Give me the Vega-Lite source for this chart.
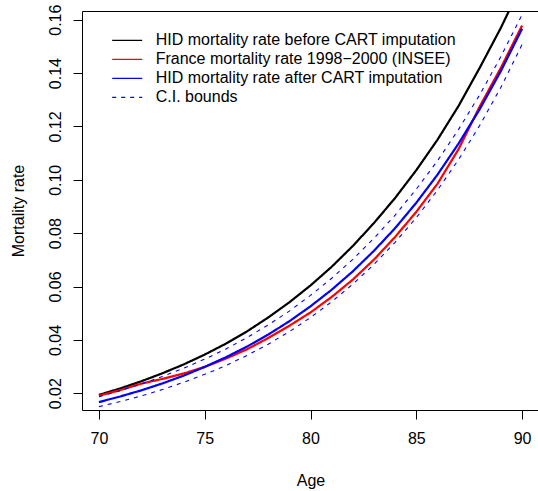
{
  "$schema": "https://vega.github.io/schema/vega-lite/v6.json",
  "width": 457,
  "height": 399,
  "autosize": {"type": "none"},
  "padding": {"left": 82, "top": 11, "right": 0, "bottom": 81},
  "background": "white",
  "config": {
    "font": "Liberation Sans",
    "view": {"stroke": "#000000", "strokeWidth": 1},
    "axis": {
      "grid": false, "domain": false, "tickColor": "#000000", "tickWidth": 1, "tickSize": 9,
      "labelFont": "Liberation Sans", "labelFontSize": 16, "labelColor": "#000000",
      "titleFont": "Liberation Sans", "titleFontSize": 16, "titleFontWeight": "normal", "titleColor": "#000000",
      "labelOverlap": false, "labelBound": false, "labelFlush": false
    },
    "legend": {
      "orient": "none", "legendX": 37.2, "legendY": 21.3,
      "symbolType": "M-3,0H3", "symbolSize": 100, "symbolStrokeWidth": 1.2,
      "labelFont": "Liberation Sans", "labelFontSize": 16, "labelColor": "#000000",
      "labelOffset": 20.5, "rowPadding": 3, "padding": 0, "labelLimit": 500
    }
  },
  "datasets": {
    "before": [
      {"age": 70, "rate": 0.0194}, {"age": 71, "rate": 0.0218}, {"age": 72, "rate": 0.0245}, {"age": 73, "rate": 0.0275},
      {"age": 74, "rate": 0.0308}, {"age": 75, "rate": 0.0345}, {"age": 76, "rate": 0.0386}, {"age": 77, "rate": 0.0432},
      {"age": 78, "rate": 0.0484}, {"age": 79, "rate": 0.0541}, {"age": 80, "rate": 0.0604}, {"age": 81, "rate": 0.0674},
      {"age": 82, "rate": 0.0752}, {"age": 83, "rate": 0.0838}, {"age": 84, "rate": 0.0932}, {"age": 85, "rate": 0.1036},
      {"age": 86, "rate": 0.115}, {"age": 87, "rate": 0.1277}, {"age": 88, "rate": 0.142}, {"age": 89, "rate": 0.157},
      {"age": 90, "rate": 0.1735}
    ],
    "france": [
      {"age": 70, "rate": 0.0191}, {"age": 71, "rate": 0.0212}, {"age": 72, "rate": 0.0236}, {"age": 73, "rate": 0.0254},
      {"age": 74, "rate": 0.0274}, {"age": 75, "rate": 0.0299}, {"age": 76, "rate": 0.033}, {"age": 77, "rate": 0.0365},
      {"age": 78, "rate": 0.0407}, {"age": 79, "rate": 0.0453}, {"age": 80, "rate": 0.0503}, {"age": 81, "rate": 0.0561},
      {"age": 82, "rate": 0.0626}, {"age": 83, "rate": 0.0701}, {"age": 84, "rate": 0.0786}, {"age": 85, "rate": 0.088},
      {"age": 86, "rate": 0.0985}, {"age": 87, "rate": 0.1115}, {"age": 88, "rate": 0.1275}, {"age": 89, "rate": 0.142},
      {"age": 90, "rate": 0.1578}
    ],
    "after": [
      {"age": 70, "rate": 0.0167}, {"age": 71, "rate": 0.0188}, {"age": 72, "rate": 0.0211}, {"age": 73, "rate": 0.0237},
      {"age": 74, "rate": 0.0266}, {"age": 75, "rate": 0.0299}, {"age": 76, "rate": 0.0335}, {"age": 77, "rate": 0.0375},
      {"age": 78, "rate": 0.042}, {"age": 79, "rate": 0.047}, {"age": 80, "rate": 0.0526}, {"age": 81, "rate": 0.0588},
      {"age": 82, "rate": 0.0657}, {"age": 83, "rate": 0.0734}, {"age": 84, "rate": 0.0819}, {"age": 85, "rate": 0.0914},
      {"age": 86, "rate": 0.1019}, {"age": 87, "rate": 0.1136}, {"age": 88, "rate": 0.1265}, {"age": 89, "rate": 0.1408},
      {"age": 90, "rate": 0.1566}
    ],
    "upper": [
      {"age": 70, "rate": 0.0187}, {"age": 71, "rate": 0.021}, {"age": 72, "rate": 0.0235}, {"age": 73, "rate": 0.0263},
      {"age": 74, "rate": 0.0294}, {"age": 75, "rate": 0.0328}, {"age": 76, "rate": 0.0366}, {"age": 77, "rate": 0.0409},
      {"age": 78, "rate": 0.0456}, {"age": 79, "rate": 0.0508}, {"age": 80, "rate": 0.0567}, {"age": 81, "rate": 0.0631},
      {"age": 82, "rate": 0.0702}, {"age": 83, "rate": 0.0781}, {"age": 84, "rate": 0.0868}, {"age": 85, "rate": 0.0965},
      {"age": 86, "rate": 0.1071}, {"age": 87, "rate": 0.1189}, {"age": 88, "rate": 0.1319}, {"age": 89, "rate": 0.1462},
      {"age": 90, "rate": 0.1619}
    ],
    "lower": [
      {"age": 70, "rate": 0.015}, {"age": 71, "rate": 0.0169}, {"age": 72, "rate": 0.019}, {"age": 73, "rate": 0.0214},
      {"age": 74, "rate": 0.0241}, {"age": 75, "rate": 0.0271}, {"age": 76, "rate": 0.0304}, {"age": 77, "rate": 0.0342},
      {"age": 78, "rate": 0.0384}, {"age": 79, "rate": 0.0431}, {"age": 80, "rate": 0.0484}, {"age": 81, "rate": 0.0543},
      {"age": 82, "rate": 0.0609}, {"age": 83, "rate": 0.0683}, {"age": 84, "rate": 0.0766}, {"age": 85, "rate": 0.0858},
      {"age": 86, "rate": 0.0961}, {"age": 87, "rate": 0.1076}, {"age": 88, "rate": 0.1204}, {"age": 89, "rate": 0.1347},
      {"age": 90, "rate": 0.1507}
    ]
  },
  "encoding": {
    "x": {
      "field": "age", "type": "quantitative",
      "scale": {"domain": [69.2, 90.8], "nice": false, "zero": false},
      "axis": {"values": [70, 75, 80, 85, 90], "title": "Age", "labelPadding": 11, "titleY": 75, "titleBaseline": "alphabetic"}
    },
    "y": {
      "field": "rate", "type": "quantitative",
      "scale": {"domain": [0.01374, 0.16326], "nice": false, "zero": false},
      "axis": {
        "values": [0.02, 0.04, 0.06, 0.08, 0.1, 0.12, 0.14, 0.16], "format": ".2f", "title": "Mortality rate",
        "labelAngle": -90, "labelAlign": "center", "labelBaseline": "bottom", "labelPadding": 10,
        "titleX": -64, "titleY": 199.5, "titleAngle": -90, "titleAlign": "center", "titleBaseline": "middle"
      }
    }
  },
  "layer": [
    {
      "data": {"name": "before"},
      "mark": {"type": "line", "strokeWidth": 2.2, "clip": true},
      "encoding": {
        "color": {"datum": "HID mortality rate before CART imputation", "type": "nominal",
          "scale": {"domain": ["HID mortality rate before CART imputation", "France mortality rate 1998−2000 (INSEE)", "HID mortality rate after CART imputation", "C.I. bounds"],
                    "range": ["#000000", "#ff0000", "#0000ff", "#0000ff"]},
          "legend": {"title": null}},
        "strokeDash": {"datum": "HID mortality rate before CART imputation", "type": "nominal",
          "scale": {"domain": ["HID mortality rate before CART imputation", "France mortality rate 1998−2000 (INSEE)", "HID mortality rate after CART imputation", "C.I. bounds"],
                    "range": [[1, 0], [1, 0], [1, 0], [4, 5]]},
          "legend": {"title": null}}
      }
    },
    {
      "data": {"name": "france"},
      "mark": {"type": "line", "strokeWidth": 2.2, "clip": true},
      "encoding": {
        "color": {"datum": "France mortality rate 1998−2000 (INSEE)", "type": "nominal"},
        "strokeDash": {"datum": "France mortality rate 1998−2000 (INSEE)", "type": "nominal"}
      }
    },
    {
      "data": {"name": "after"},
      "mark": {"type": "line", "strokeWidth": 2.2, "clip": true},
      "encoding": {
        "color": {"datum": "HID mortality rate after CART imputation", "type": "nominal"},
        "strokeDash": {"datum": "HID mortality rate after CART imputation", "type": "nominal"}
      }
    },
    {
      "data": {"name": "upper"},
      "mark": {"type": "line", "strokeWidth": 1.1, "clip": true},
      "encoding": {
        "color": {"datum": "C.I. bounds", "type": "nominal"},
        "strokeDash": {"datum": "C.I. bounds", "type": "nominal"}
      }
    },
    {
      "data": {"name": "lower"},
      "mark": {"type": "line", "strokeWidth": 1.1, "clip": true},
      "encoding": {
        "color": {"datum": "C.I. bounds", "type": "nominal"},
        "strokeDash": {"datum": "C.I. bounds", "type": "nominal"}
      }
    }
  ]
}
